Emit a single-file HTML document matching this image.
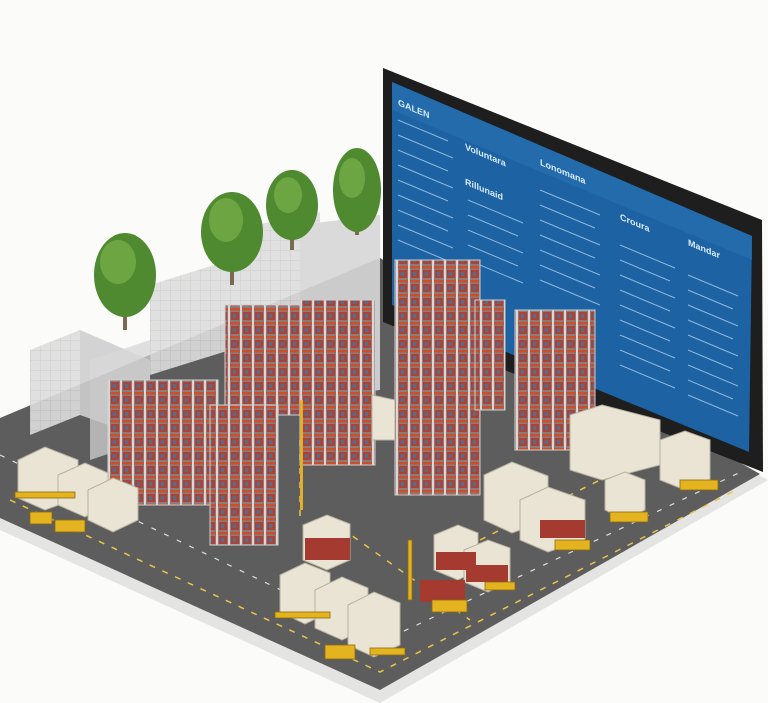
<!DOCTYPE html>
<html><head><meta charset="utf-8"><style>
html,body{margin:0;padding:0;background:#fbfbf9;}
svg{display:block;font-family:"Liberation Sans",sans-serif;}
</style></head><body>
<svg width="768" height="703" viewBox="0 0 768 703" xmlns="http://www.w3.org/2000/svg">
<defs>
<pattern id="rack" width="12" height="14" patternUnits="userSpaceOnUse">
<rect width="12" height="14" fill="#8e7a78"/>
<rect y="0" width="12" height="2.5" fill="#c8502e"/>
<rect x="0" width="2" height="14" fill="#d8d8d8"/>
<rect x="3" y="4" width="8" height="8" fill="#a8443a"/>
<rect x="5" y="6" width="3" height="4" fill="#5a6a88"/>
</pattern>
<pattern id="bld" width="10" height="10" patternUnits="userSpaceOnUse">
<rect width="10" height="10" fill="#dedede"/>
<path d="M0 0H10M0 0V10" stroke="#c6c6c6" stroke-width="1"/>
</pattern>
</defs>
<rect width="768" height="703" fill="#fbfbf9"/>
<polygon points="0,428 380,268 768,480 380,703 0,530" fill="#e4e4e2"/>
<polygon points="0,418 380,258 760,474 380,690 0,518" fill="#5d5d5d"/>
<g stroke="#e8c64a" stroke-width="1.5" stroke-dasharray="6,8" fill="none">
<path d="M10,500 L380,672 L740,488"/>
<path d="M300,440 L300,520"/>
<path d="M330,520 L470,620"/>
<path d="M480,540 L620,470"/>
</g>
<g stroke="#fff" stroke-width="1.2" stroke-dasharray="5,9" fill="none" opacity=".8">
<path d="M0,455 L385,640 L745,470"/>
</g>
<g opacity=".9">
<polygon points="30,350 80,330 80,415 30,435" fill="url(#bld)"/>
<polygon points="80,330 150,360 150,440 80,415" fill="#cfcfcf"/>
<polygon points="150,285 230,260 230,350 150,375" fill="url(#bld)"/>
<polygon points="230,230 320,212 320,330 230,350" fill="url(#bld)"/>
<polygon points="300,225 380,215 380,390 300,400" fill="#d7d7d7"/>
<polygon points="90,360 150,340 150,440 90,460" fill="#d4d4d4" opacity=".8"/>
</g>
<g>
<rect x="123" y="290" width="4" height="40" fill="#7a6a50"/>
<ellipse cx="125" cy="275" rx="31" ry="42" fill="#4f8a30"/>
<ellipse cx="118" cy="262" rx="18" ry="22" fill="#6ea543"/>
<rect x="230" y="245" width="4" height="40" fill="#7a6a50"/>
<ellipse cx="232" cy="232" rx="31" ry="40" fill="#4f8a30"/>
<ellipse cx="226" cy="220" rx="17" ry="22" fill="#6ea543"/>
<rect x="290" y="215" width="4" height="35" fill="#7a6a50"/>
<ellipse cx="292" cy="205" rx="26" ry="35" fill="#4f8a30"/>
<ellipse cx="288" cy="195" rx="14" ry="18" fill="#6ea543"/>
<rect x="355" y="200" width="4" height="35" fill="#7a6a50"/>
<ellipse cx="357" cy="190" rx="24" ry="42" fill="#4f8a30"/>
<ellipse cx="352" cy="178" rx="13" ry="20" fill="#6ea543"/>
</g>
<polygon points="383,68 762,220 763,472 383,322" fill="#1e1e1e"/>
<polygon points="392,82 752,236 749,452 392,305" fill="#1d62a2"/>
<polygon points="392,82 752,236 752,260 392,110" fill="#2a73b3" opacity=".5"/>
<g fill="#d9ecff" font-size="9" font-weight="bold">
<text x="398" y="104" transform="skewY(22.8) translate(0,-166)">GALEN</text>
<text x="465" y="150" transform="skewY(22.8) translate(0,-196)">Voluntara</text>
<text x="465" y="185" transform="skewY(22.8) translate(0,-196)">Rillunaid</text>
<text x="540" y="165" transform="skewY(22.8) translate(0,-227)">Lonomana</text>
<text x="620" y="220" transform="skewY(22.8) translate(0,-261)">Croura</text>
<text x="688" y="245" transform="skewY(22.8) translate(0,-289)">Mandar</text>
</g>
<g stroke="#bcdcf5" stroke-width="1" opacity=".7">
<path d="M398,120 l50,21 M398,135 l55,23 M398,150 l50,21 M398,165 l55,23 M398,180 l50,21 M398,195 l55,23 M398,210 l50,21 M398,225 l55,23 M398,240 l50,21"/>
<path d="M468,200 l55,23 M468,215 l50,21 M468,230 l55,23 M468,245 l50,21 M468,260 l55,23"/>
<path d="M540,190 l60,25 M540,205 l55,23 M540,220 l60,25 M540,235 l55,23 M540,250 l60,25 M540,265 l55,23 M540,280 l60,25"/>
<path d="M620,245 l55,23 M620,260 l50,21 M620,275 l55,23 M620,290 l50,21 M620,305 l55,23 M620,320 l50,21 M620,335 l55,23 M620,350 l50,21 M620,365 l55,23"/>
<path d="M688,275 l50,21 M688,290 l45,19 M688,305 l50,21 M688,320 l45,19 M688,335 l50,21 M688,350 l45,19 M688,365 l50,21 M688,380 l45,19 M688,395 l50,21"/>
</g>
<g stroke="#cfcfcf" stroke-width="1">
<rect x="225" y="305" width="75" height="110" fill="url(#rack)"/>
<rect x="300" y="300" width="75" height="165" fill="url(#rack)"/>
<rect x="108" y="380" width="110" height="125" fill="url(#rack)"/>
<rect x="210" y="405" width="68" height="140" fill="url(#rack)"/>
<rect x="395" y="260" width="85" height="235" fill="url(#rack)"/>
<rect x="475" y="300" width="30" height="110" fill="url(#rack)"/>
<rect x="515" y="310" width="80" height="140" fill="url(#rack)"/>
</g>
<rect x="300" y="400" width="3" height="110" fill="#e0b02a"/>
<g stroke="#b8b2a0" stroke-width="1">
<g fill="#e9e4d4">
<polygon points="18,460 45,447 78,460 78,498 45,510 18,498"/>
<polygon points="58,475 85,463 108,473 108,505 85,517 58,505"/>
<polygon points="88,490 113,478 138,488 138,520 113,532 88,520"/>
<polygon points="280,575 305,563 330,573 330,612 305,624 280,612"/>
<polygon points="315,590 342,577 368,588 368,628 342,640 315,628"/>
<polygon points="348,605 374,592 400,603 400,645 374,657 348,645"/>
<polygon points="303,525 327,515 350,524 350,560 327,570 303,560"/>
<polygon points="434,535 458,525 478,533 478,570 458,580 434,570"/>
<polygon points="464,550 488,540 510,548 510,582 488,592 464,582"/>
<polygon points="484,475 512,462 548,476 548,520 512,533 484,520"/>
<polygon points="520,500 548,487 585,500 585,540 548,552 520,540"/>
<polygon points="570,415 602,405 660,420 660,465 602,480 570,470"/>
<polygon points="605,480 625,472 645,480 645,510 625,520 605,510"/>
<polygon points="660,440 685,431 710,440 710,480 685,490 660,480"/>
<polygon points="372,395 395,400 395,440 372,440"/>
</g>
</g>
<g fill="#a53a30">
<rect x="305" y="538" width="45" height="22"/>
<rect x="436" y="552" width="40" height="18"/>
<rect x="466" y="565" width="42" height="17"/>
<rect x="420" y="580" width="45" height="22"/>
<rect x="540" y="520" width="45" height="18"/>
</g>
<g fill="#e3b420" stroke="#8a6a10" stroke-width=".8">
<rect x="30" y="512" width="22" height="12"/>
<rect x="55" y="520" width="30" height="12"/>
<rect x="325" y="645" width="30" height="14"/>
<rect x="432" y="600" width="35" height="12"/>
<rect x="610" y="512" width="38" height="10"/>
<rect x="680" y="480" width="38" height="10"/>
<rect x="555" y="540" width="35" height="10"/>
<rect x="15" y="492" width="60" height="6"/>
<rect x="275" y="612" width="55" height="6"/>
<rect x="370" y="648" width="35" height="7"/>
<rect x="485" y="582" width="30" height="8"/>
<rect x="408" y="540" width="4" height="60"/>
</g>
</svg>
</body></html>
